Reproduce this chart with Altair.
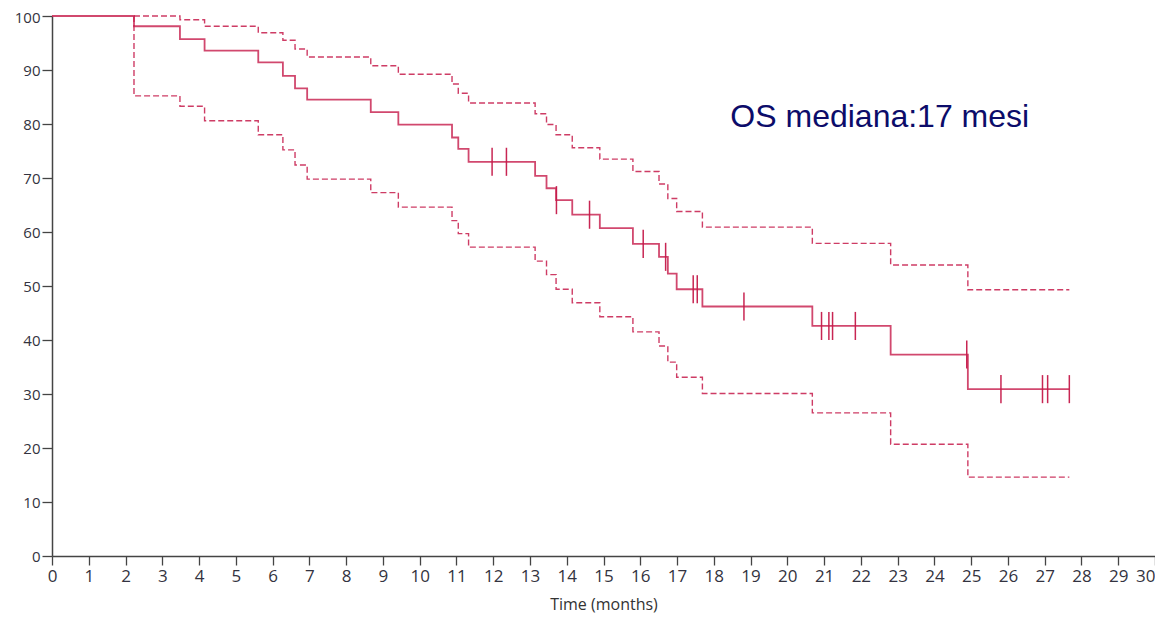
import altair as alt
import pandas as pd

# Kaplan-Meier step data (months, % surviving)
drop_times = [0, 2.23, 3.48, 4.15, 5.61, 6.28, 6.61, 6.94, 8.67, 9.42, 10.88, 11.05, 11.33,
              13.14, 13.45, 13.71, 14.15, 14.90, 15.80, 16.51, 16.75, 16.99, 17.69, 20.68,
              22.81, 24.91, 27.67]
surv = [100, 98.1, 95.7, 93.6, 91.4, 88.9, 86.6, 84.5, 82.2, 79.9, 77.5, 75.4, 73.0,
        70.4, 68.1, 65.9, 63.2, 60.7, 57.8, 55.4, 52.3, 49.4, 46.2, 42.6,
        37.3, 30.9, 30.9]
upper = [100, 100, 99.3, 98.1, 96.9, 95.5, 93.9, 92.4, 90.8, 89.2, 87.4, 85.7, 83.9,
         81.9, 79.9, 78.0, 75.6, 73.5, 71.2, 68.9, 66.2, 63.8, 60.9, 57.9,
         53.9, 49.3, 49.3]
lower = [100, 85.2, 83.3, 80.6, 78.0, 75.2, 72.4, 69.8, 67.3, 64.6, 62.1, 59.7, 57.2,
         54.6, 52.1, 49.4, 46.9, 44.3, 41.5, 38.9, 35.9, 33.1, 30.1, 26.5,
         20.7, 14.6, 14.6]

censor_times = [11.97, 12.36, 13.72, 14.62, 16.08, 16.69, 17.44, 17.55, 18.82, 20.93,
                21.13, 21.23, 21.85, 24.88, 25.81, 26.94, 27.08, 27.67]
censor_surv = [73.0, 73.0, 65.9, 63.2, 57.8, 55.4, 49.4, 49.4, 46.2, 42.6,
               42.6, 42.6, 42.6, 37.3, 30.9, 30.9, 30.9, 30.9]

x_ticks = list(range(0, 31))
y_ticks = list(range(0, 101, 10))

annotation_text = ["OS mediana:17 mesi"]
annotation_x = [18.45]
annotation_y = [79.5]

RED = "#c51a4a"
LABEL_FONT = "Open Sans, Liberation Sans, sans-serif"

km = pd.DataFrame({"t": drop_times, "s": surv, "o": list(range(len(drop_times)))})

ci_rows = []
for name, vals in (("upper", upper), ("lower", lower)):
    ci_rows.append({"t": drop_times[1], "s": vals[0], "band": name, "o": 0})
    for i in range(1, len(drop_times)):
        ci_rows.append({"t": drop_times[i], "s": vals[i], "band": name, "o": i})
ci = pd.DataFrame(ci_rows)

cens = pd.DataFrame({"t": censor_times, "s": censor_surv})
cens["s_lo"] = cens["s"] - 2.6
cens["s_hi"] = cens["s"] + 2.6

ann = pd.DataFrame({"t": annotation_x, "s": annotation_y, "label": annotation_text})

xs = alt.Scale(domain=[0, 30], nice=False, zero=False)
ys = alt.Scale(domain=[0, 100], nice=False)

x_axis = alt.Axis(values=x_ticks, title="Time (months)", grid=False, tickSize=9,
                  labelPadding=3, labelFontSize=17, labelFont=LABEL_FONT,
                  labelColor="#333340", titleFont=LABEL_FONT, titleFontSize=16,
                  titleFontWeight="normal", titleColor="#333333", titlePadding=12,
                  domainColor="#444444", domainWidth=1.5, tickColor="#444444",
                  tickWidth=1.3, labelFlush=False, labelOverlap=False,
                  labelAlign={"condition": {"test": "datum.value == 30", "value": "right"},
                              "value": "center"})
y_axis = alt.Axis(values=y_ticks, title=None, grid=False, tickSize=10, labelPadding=2,
                  labelFontSize=15, labelFont=LABEL_FONT, labelColor="#333340",
                  domainColor="#444444", domainWidth=1.5, tickColor="#444444",
                  tickWidth=1.3, labelOverlap=False,
                  labelOffset={"condition": {"test": "datum.value == 100", "value": 1},
                               "value": 0})

x_enc = alt.X("t:Q", scale=xs, axis=x_axis)
y_enc = alt.Y("s:Q", scale=ys, axis=y_axis)

ci_lines = alt.Chart(ci).mark_line(interpolate="step-after", color=RED, strokeWidth=1.4,
                                   strokeDash=[6, 3], opacity=0.85).encode(
    x=x_enc,
    y=y_enc,
    detail="band:N",
    order="o:Q",
)

main_line = alt.Chart(km).mark_line(interpolate="step-after", color=RED,
                                    strokeWidth=1.8, opacity=0.8).encode(
    x=x_enc,
    y=y_enc,
    order="o:Q",
)

censor_marks = alt.Chart(cens).mark_rule(color=RED, strokeWidth=1.5, opacity=0.95).encode(
    x=x_enc,
    y=alt.Y("s_lo:Q", scale=ys, axis=y_axis),
    y2="s_hi:Q",
)

annotation = alt.Chart(ann).mark_text(align="left", baseline="alphabetic",
                                      font="Liberation Sans, Arial, sans-serif",
                                      fontSize=32, color="#0c0c6a").encode(
    x=x_enc,
    y=y_enc,
    text="label:N",
)

chart = alt.layer(ci_lines, main_line, censor_marks, annotation).properties(
    width=1103, height=540,
    padding={"left": 44, "top": 8, "right": 0, "bottom": 57},
    autosize=alt.AutoSizeParams(type="none"),
    background="white",
).configure_view(stroke=None)

chart.save("out.html", embed_options={"renderer": "svg", "actions": False})
